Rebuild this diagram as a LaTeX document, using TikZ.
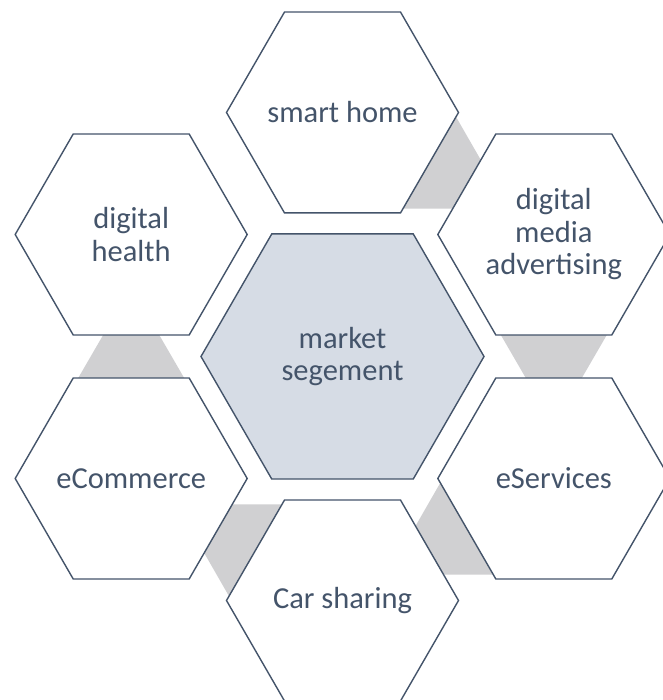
\documentclass[tikz,border=0pt]{standalone}
\usepackage{fontspec}
\newfontfamily\hexfont{Carlito}
\usetikzlibrary{shapes.geometric,calc}
\definecolor{hexline}{HTML}{44546A}
\definecolor{hextext}{HTML}{44546A}
\definecolor{centerfill}{HTML}{D6DCE5}
\definecolor{connfill}{HTML}{D0D0D2}
\pgfdeclarelayer{bg}
\pgfsetlayers{bg,main}
\newcommand\gconn[2]{%
  \fill[conn] ($(#1)!97pt!(#2)!55pt!90:(#2)$) -- ($(#1)!97pt!(#2)!55pt!-90:(#2)$)
   -- ($(#1)!147pt!(#2)!26pt!-90:(#2)$) -- ($(#1)!147pt!(#2)!26pt!90:(#2)$) -- cycle;}
\begin{document}
\begin{tikzpicture}[x=1pt,y=1pt,
  hexbase/.style={regular polygon, regular polygon sides=6, inner sep=0pt, outer sep=0pt,
    draw=hexline, line width=1.4pt},
  outerhex/.style={hexbase, minimum size=232pt, fill=white},
  centerhex/.style={hexbase, minimum size=283pt, fill=centerfill},
  hextxt/.style={inner sep=0pt, text=hextext, align=center,
    font=\hexfont\fontsize{30.5}{32.5}\selectfont},
  conn/.style={fill=connfill}]
\useasboundingbox (0,0) rectangle (662,700);
\coordinate (c) at (342.5,343.5);
\node[centerhex] (mid) at (c) {};
\node[outerhex] (smart)  at ($(c)+(90:244)$)  {};
\node[outerhex] (media)  at ($(c)+(30:244)$)  {};
\node[outerhex] (eserv)  at ($(c)+(-30:244)$) {};
\node[outerhex] (car)    at ($(c)+(-90:244)$) {};
\node[outerhex] (ecom)   at ($(c)+(-150:244)$) {};
\node[outerhex] (health) at ($(c)+(150:244)$) {};
\node[hextxt] (midt)    at (mid)    {market\\segement};
\node[hextxt] (smartt)  at (smart)  {smart home};
\node[hextxt] (mediat)  at (media)  {digital\\media\\advertising};
\node[hextxt] (eservt)  at (eserv)  {eServices};
\node[hextxt] (cart)    at (car)    {Car sharing};
\node[hextxt] (ecomt)   at (ecom)   {eCommerce};
\node[hextxt] (healtht) at (health) {digital\\health};
\begin{pgfonlayer}{bg}
  \fill[white] (0,0) rectangle (662,700);
  \gconn{smart}{media}
  \gconn{media}{eserv}
  \gconn{eserv}{car}
  \gconn{car}{ecom}
  \gconn{ecom}{health}
\end{pgfonlayer}
\end{tikzpicture}
\end{document}
